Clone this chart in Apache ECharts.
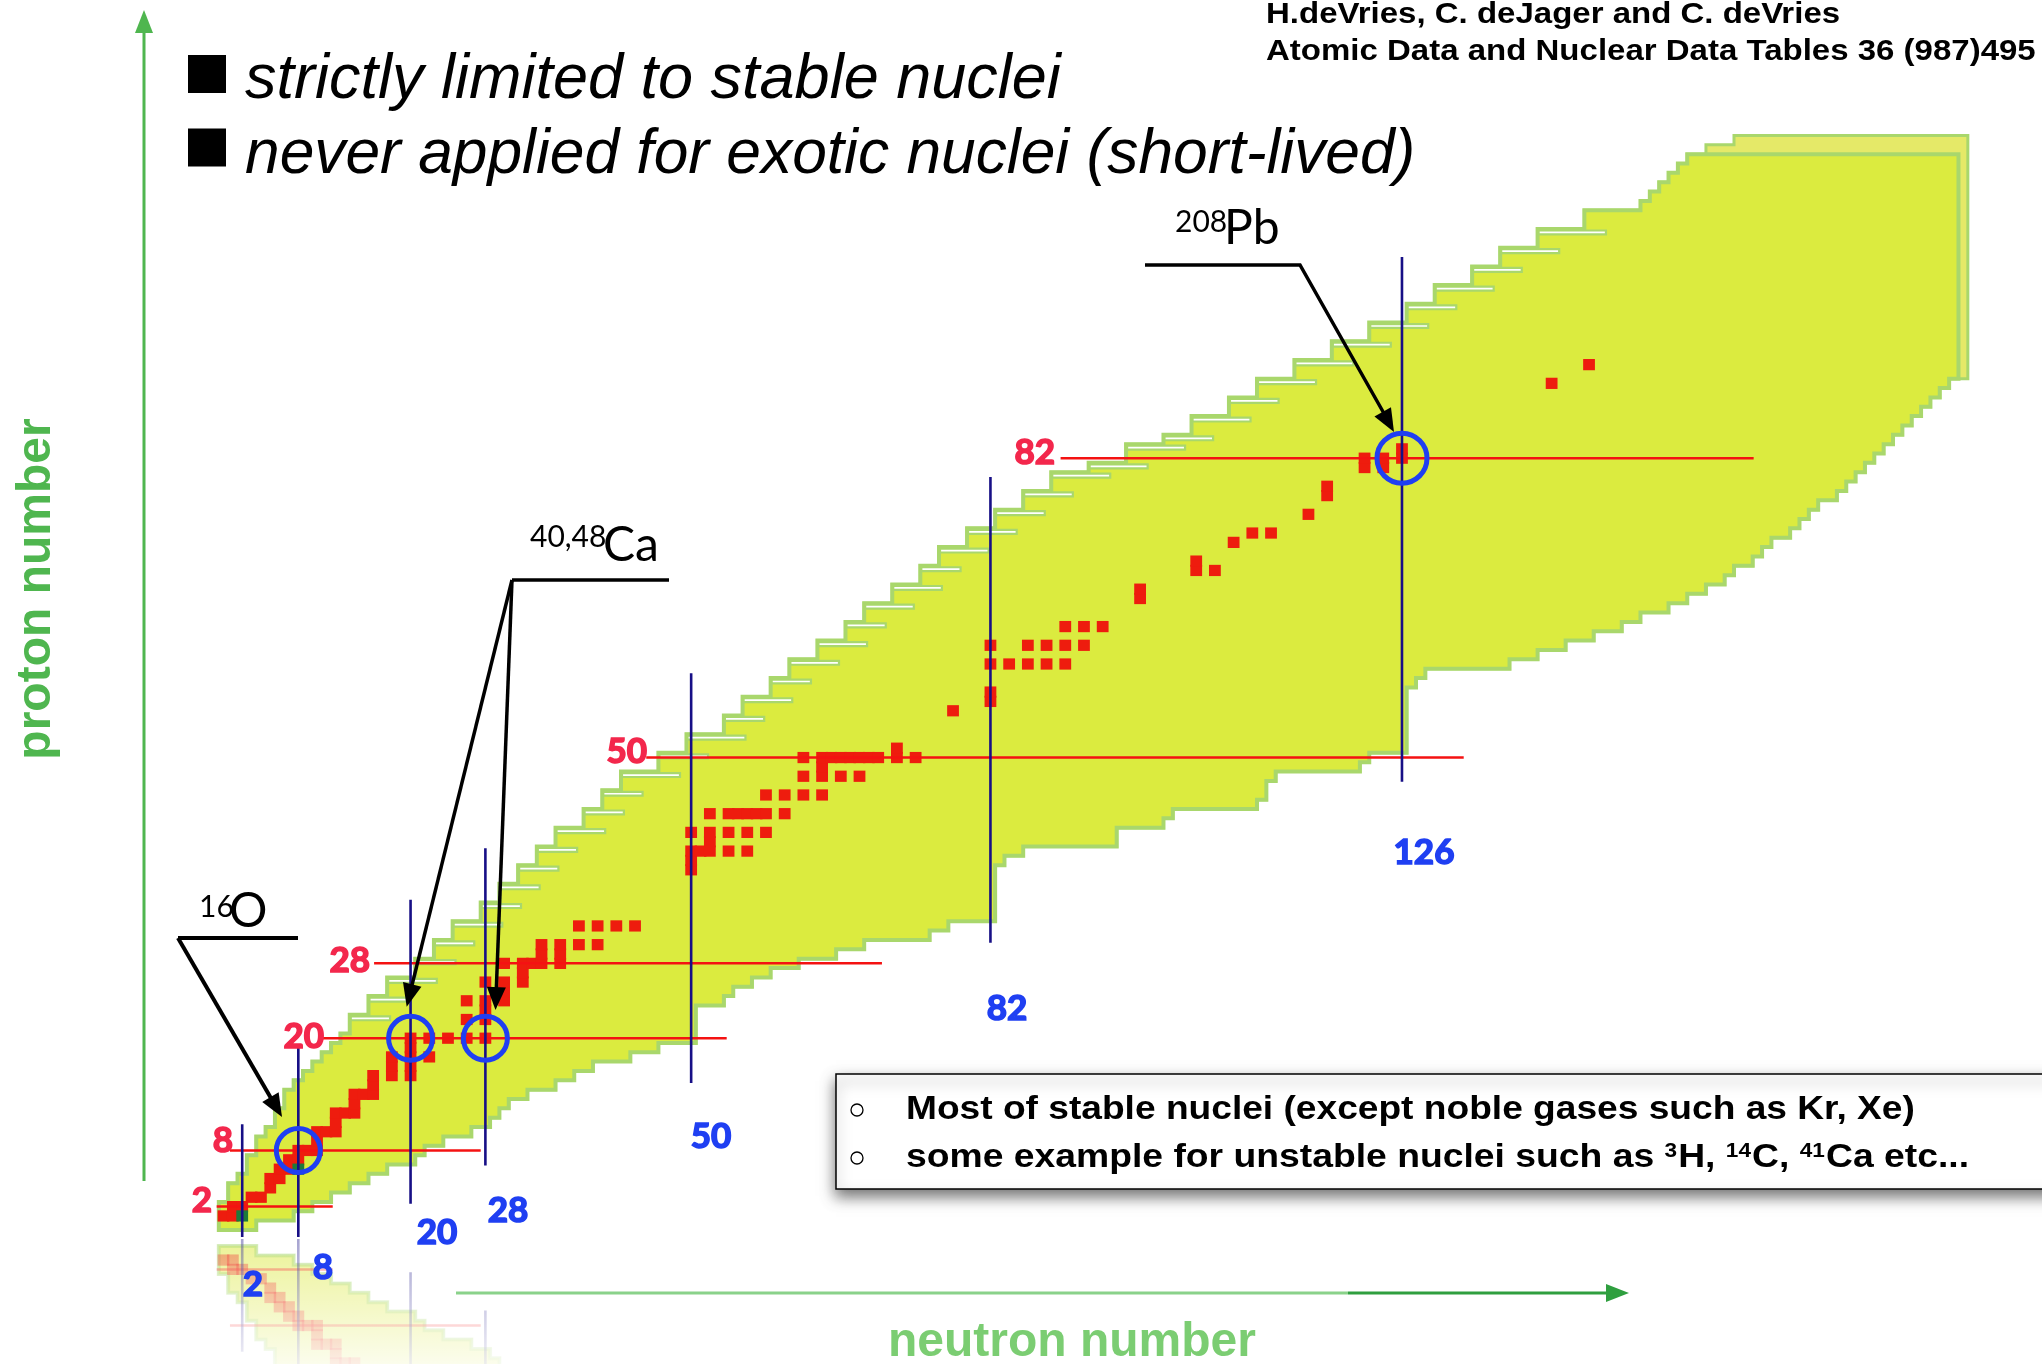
<!DOCTYPE html>
<html>
<head>
<meta charset="utf-8">
<script src="https://cdn.jsdelivr.net/npm/echarts@6/dist/echarts.min.js"></script>
<style>
html, body { margin: 0; padding: 0; background: #ffffff; }
#chart { width: 2042px; height: 1364px; }
</style>
</head>
<body>
<div id="chart"></div>
<script>
// ---- Known nuclei: for each proton number Z (0, 1, 2, ...) the lightest and heaviest neutron number N ----
const nLow = [
  0, 0, 0, 1, 1, 2, 3, 3, 4, 4,
  5, 6, 6, 7, 7, 8, 9, 10, 11, 12,
  13, 14, 14, 16, 16, 18, 18, 21, 21, 23,
  23, 25, 25, 28, 28, 30, 30, 32, 32, 34,
  34, 36, 36, 39, 39, 41, 41, 43, 43, 47,
  47, 50, 50, 54, 54, 56, 56, 59, 59, 61,
  61, 64, 64, 67, 67, 69, 69, 72, 72, 75,
  75, 77, 77, 80, 80, 83, 83, 86, 86, 89,
  89, 93, 97, 97, 101, 104, 104, 108, 108, 111,
  111, 115, 115, 119, 119, 123, 123, 127, 127, 130,
  130, 134, 134, 137, 137, 141, 141, 146, 146, 152,
  153, 154, 155, 156, 157, 159, 162
];
const nHigh = [
  3, 7, 9, 11, 13, 15, 17, 20, 21, 23,
  26, 28, 29, 30, 32, 35, 37, 39, 43, 46,
  50, 50, 50, 50, 53, 54, 56, 58, 61, 65,
  68, 75, 77, 82, 82, 82, 82, 82, 82, 83,
  85, 95, 95, 100, 101, 110, 111, 111, 112, 121,
  122, 126, 126, 126, 126, 126, 126, 126, 127, 128,
  137, 140, 143, 146, 149, 151, 154, 156, 158, 160,
  161, 163, 164, 165, 167, 168, 169, 170, 172, 173,
  174, 175, 176, 177, 178, 179, 180, 181, 182, 183,
  184, 185, 185, 185, 185, 185, 185, 185, 185, 185,
  185, 185, 185, 185, 185, 185, 185, 185, 185, 185,
  185, 185, 185, 185, 185
];
// pale outer margin of the heavy region
const marginFromZ = 91;
const marginN = 186;

// ---- Nuclei with measured charge distributions [N, Z] ----
const measuredStable = [
  [0,1],[1,1],[1,2],[2,2],[3,3],[4,3],[5,4],[5,5],[6,5],[6,6],[7,6],[7,7],[8,7],
  [8,8],[9,8],[10,8],[10,9],[10,10],[11,10],[12,10],[12,11],[12,12],[13,12],[14,12],
  [14,13],[14,14],[15,14],[16,14],[16,15],[16,16],[18,16],[20,16],[18,17],[20,17],
  [18,18],[20,18],[22,18],[20,19],[20,20],[22,20],[24,20],[26,20],[28,20],
  [26,22],[28,22],[28,23],[26,24],[28,24],[30,24],[30,25],[28,26],[30,26],[32,26],[32,27],
  [30,28],[32,28],[33,28],[34,28],[36,28],[34,29],[36,29],[34,30],[36,30],[38,30],[40,30],
  [38,32],[40,32],[42,32],[44,32],
  [50,38],[50,39],[50,40],[51,40],[52,40],[54,40],[56,40],[52,41],
  [50,42],[52,42],[54,42],[56,42],[58,42],
  [52,44],[54,44],[55,44],[56,44],[57,44],[58,44],[60,44],
  [58,46],[60,46],[62,46],[64,46],
  [62,48],[64,48],[66,48],[68,48],[64,49],
  [62,50],[64,50],[65,50],[66,50],[67,50],[68,50],[69,50],[70,50],[72,50],[74,50],[72,51],
  [78,55],[82,56],[82,57],
  [82,60],[84,60],[86,60],[88,60],[90,60],
  [82,62],[86,62],[88,62],[90,62],[92,62],
  [90,64],[92,64],[94,64],
  [98,67],[98,68],[104,70],[106,70],[104,71],[108,73],[110,74],[112,74],[116,76],
  [118,78],[118,79],[122,81],[124,81],[122,82],[124,82],[126,82],[126,83],
  [142,90],[146,92]
];
const measuredUnstable = [[2,1],[8,6]];
// 16O, 40Ca, 48Ca, 208Pb
const highlighted = [[8,8],[20,20],[28,20],[126,82]];

// ---- Magic numbers ----
const magicN = [2, 8, 20, 28, 50, 82, 126];
const magicNLineFromZ = [-1.25, -1.25, 2.3, 6.4, 15.2, 30.2, 47.4];
const magicNLineToZ = [10.8, 19.0, 34.8, 40.3, 59.0, 80.0, 103.5];
const magicZ = [2, 8, 20, 28, 50, 82];
const magicZLineFromN = [-0.73, 0.69, 10.64, 16.1, 45.2, 89.5];
const magicZLineToN = [11.68, 27.5, 53.8, 70.4, 132.6, 163.6];

// ---- layout of the N-Z plane ----
const PX_N = 9.353, X0 = 223.5, PX_Z = 9.355, Y0 = 1225.3;
const N_MIN = -15, N_MAX = 190, Z_MIN = -10, Z_MAX = 130;
const MIRROR_Y = 1238, H = 1364, W = 2042;
const gridLeft = X0 + N_MIN * PX_N;
const gridWidth = (N_MAX - N_MIN) * PX_N;
const reflZ0 = 2 * MIRROR_Y - Y0;

const C_BAND = '#dbeb3f', C_PALE = '#e5e968', C_EDGE = '#a9d76c';
const C_RED = '#ee1c0e', C_GREEN = '#1d7a3a', C_NAVY = '#170f86', C_ZLINE = '#f41212';
const C_BLUE = '#1f3ff2', C_MAGIC_RED = '#f3274c';

function outline(api, lows, highs) {
  const pts = [];
  for (let z = 0; z < highs.length; z++) {
    pts.push(api.coord([lows[z] - 0.5, z - 0.5]), api.coord([lows[z] - 0.5, z + 0.5]));
  }
  for (let z = highs.length - 1; z >= 0; z--) {
    pts.push(api.coord([highs[z] + 0.5, z + 0.5]), api.coord([highs[z] + 0.5, z - 0.5]));
  }
  return pts;
}

// narrow ledges along the proton-rich edge where the boundary steps to higher N
function ledges(api, opacity) {
  const out = [];
  const s = api.size([1, 1]);
  for (let z = 22; z < 108; z++) {
    if (nLow[z + 1] > nLow[z]) {
      const a = api.coord([nLow[z] - 0.5, z + 0.5]);
      const b = api.coord([nLow[z + 1] - 0.5 + 2.2, z + 0.5]);
      out.push({ type: 'rect', shape: { x: a[0] + 1, y: a[1] + 1.5, width: b[0] - a[0], height: s[1] * 0.42 },
                 style: { fill: '#ffffff', stroke: C_EDGE, lineWidth: 2.2, opacity: opacity } });
    }
  }
  return out;
}

const paleHigh = nLow.map((v, z) => (z >= marginFromZ ? marginN : nHigh[z]));

function bandSeries(axis, z, opacity) {
  return [{
    type: 'custom', xAxisIndex: axis, yAxisIndex: axis, z: z, clip: axis === 1, silent: true,
    data: [[0, 0]],
    renderItem: (params, api) => ({
      type: 'polygon',
      shape: { points: outline(api, nLow, paleHigh) },
      style: { fill: C_PALE, stroke: C_EDGE, lineWidth: 3, opacity: opacity }
    })
  }, {
    type: 'custom', xAxisIndex: axis, yAxisIndex: axis, z: z, clip: axis === 1, silent: true,
    data: [[0, 0]],
    renderItem: (params, api) => ({
      type: 'group',
      children: [{
        type: 'polygon',
        shape: { points: outline(api, nLow, nHigh) },
        style: { fill: C_BAND, stroke: C_EDGE, lineWidth: 4, opacity: opacity }
      }].concat(ledges(api, opacity))
    })
  }];
}

function squareSeries(axis, z, data, color, opacity) {
  return {
    type: 'custom', xAxisIndex: axis, yAxisIndex: axis, z: z, clip: axis === 1, silent: true,
    data: data,
    renderItem: (params, api) => {
      const c = api.coord([api.value(0), api.value(1)]);
      const s = api.size([1, 1]);
      const w = s[0] * 1.26, h = s[1] * 1.2;
      return { type: 'rect', shape: { x: c[0] - w / 2, y: c[1] - h / 2, width: w, height: h },
               style: { fill: color, opacity: opacity } };
    }
  };
}

function magicLineSeries(axis, z, opacity) {
  const nData = magicN.map((n, i) => [n, magicNLineFromZ[i], magicNLineToZ[i]]);
  const zData = magicZ.map((zz, i) => [magicZLineFromN[i], zz, magicZLineToN[i]]);
  return [{
    type: 'custom', xAxisIndex: axis, yAxisIndex: axis, z: z, clip: axis === 1, silent: true,
    data: zData,
    renderItem: (params, api) => {
      const p1 = api.coord([api.value(0), api.value(1)]);
      const p2 = api.coord([api.value(2), api.value(1)]);
      return { type: 'line', shape: { x1: p1[0], y1: p1[1], x2: p2[0], y2: p2[1] },
               style: { stroke: C_ZLINE, lineWidth: 2.5, opacity: opacity } };
    }
  }, {
    type: 'custom', xAxisIndex: axis, yAxisIndex: axis, z: z, clip: axis === 1, silent: true,
    data: nData,
    renderItem: (params, api) => {
      const p1 = api.coord([api.value(0), api.value(1)]);
      const p2 = api.coord([api.value(0), api.value(2)]);
      return { type: 'line', shape: { x1: p1[0], y1: p1[1], x2: p2[0], y2: p2[1] },
               style: { stroke: C_NAVY, lineWidth: 2.6, opacity: opacity } };
    }
  }];
}

// ---- annotation helpers ----
function arrowHead(from, tip, len, half, color, z) {
  const dx = tip[0] - from[0], dy = tip[1] - from[1];
  const d = Math.hypot(dx, dy), ux = dx / d, uy = dy / d;
  const bx = tip[0] - ux * len, by = tip[1] - uy * len;
  return { type: 'polygon', z: z, silent: true,
    shape: { points: [tip, [bx - uy * half, by + ux * half], [bx + uy * half, by - ux * half]] },
    style: { fill: color } };
}
function arrowLine(from, tip, width, color, z) {
  const dx = tip[0] - from[0], dy = tip[1] - from[1];
  const d = Math.hypot(dx, dy);
  const end = [tip[0] - dx / d * 16, tip[1] - dy / d * 16];
  return [
    { type: 'line', z: z, silent: true, shape: { x1: from[0], y1: from[1], x2: end[0], y2: end[1] },
      style: { stroke: color, lineWidth: width } },
    arrowHead(from, tip, 23, 9.5, color, z)
  ];
}
function polyline(points, width, color, z) {
  return { type: 'polyline', z: z, silent: true, shape: { points: points },
           style: { stroke: color, lineWidth: width, fill: null, lineJoin: 'miter' } };
}
function txt(x, y, text, font, color, align, extra) {
  return Object.assign({ type: 'text', x: x, y: y, z: 50, silent: true,
    style: { text: text, font: font, fill: color, align: align || 'left', textAlign: align || 'left',
             verticalAlign: 'middle', textVerticalAlign: 'middle' } }, extra || {});
}
// heavy numerals for the magic numbers
function magicLabel(x, y, text, color, align) {
  const t = txt(x, y, text, 'bold 35px Lato', color, align);
  t.style.stroke = color;
  t.style.lineWidth = 1.6;
  return t;
}

const FONT_NOTE = '"Lato", "Noto Sans", sans-serif';

const graphics = [
  // fade of the mirrored image below the chart
  { type: 'rect', z: 1, silent: true, shape: { x: 0, y: MIRROR_Y, width: W, height: H - MIRROR_Y },
    style: { fill: { type: 'linear', x: 0, y: 0, x2: 0, y2: 1,
      colorStops: [{ offset: 0, color: 'rgba(255,255,255,0.15)' }, { offset: 1, color: 'rgba(255,255,255,0.85)' }] } } },

  // bullets
  { type: 'rect', z: 50, silent: true, shape: { x: 188, y: 55, width: 38, height: 38 }, style: { fill: '#000' } },
  { type: 'rect', z: 50, silent: true, shape: { x: 188, y: 128.5, width: 38, height: 38 }, style: { fill: '#000' } },
  txt(245, 80, 'strictly limited to stable nuclei', 'italic 63px "Liberation Sans"', '#000'),
  txt(245, 156, 'never applied for exotic nuclei (short-lived)', 'italic 62.3px "Liberation Sans"', '#000'),

  // reference
  txt(1266, 15, 'H.deVries, C. deJager and C. deVries', 'bold 30px "Liberation Sans"', '#000', 'left', { scaleX: 1.1 }),
  txt(1266, 52, 'Atomic Data and Nuclear Data Tables 36 (987)495', 'bold 30px "Liberation Sans"', '#000', 'left', { scaleX: 1.1 }),

  // axis arrows
  { type: 'line', z: 50, silent: true, shape: { x1: 144, y1: 1181, x2: 144, y2: 28 }, style: { stroke: '#4fb64f', lineWidth: 3 } },
  { type: 'polygon', z: 50, silent: true, shape: { points: [[144, 10], [135, 33], [153, 33]] }, style: { fill: '#4fb64f' } },
  txt(37, 589, 'proton number', 'bold 48px "Liberation Sans"', '#4fb64f', 'center', { rotation: Math.PI / 2 }),
  { type: 'line', z: 50, silent: true, shape: { x1: 456, y1: 1293, x2: 1348, y2: 1293 }, style: { stroke: '#8ad28a', lineWidth: 3 } },
  { type: 'line', z: 50, silent: true, shape: { x1: 1348, y1: 1293, x2: 1610, y2: 1293 }, style: { stroke: '#2f9f3f', lineWidth: 3 } },
  { type: 'polygon', z: 50, silent: true, shape: { points: [[1629, 1293], [1606, 1284], [1606, 1302]] }, style: { fill: '#2f9f3f' } },
  txt(1072, 1343, 'neutron number', 'bold 48px "Liberation Sans"', '#7bcd72', 'center'),

  // magic number labels (Z, left of the lines)
  magicLabel(1055, 453, '82', C_MAGIC_RED, 'right'),
  magicLabel(647, 752, '50', C_MAGIC_RED, 'right'),
  magicLabel(370, 961, '28', C_MAGIC_RED, 'right'),
  magicLabel(324, 1037, '20', C_MAGIC_RED, 'right'),
  magicLabel(233, 1141, '8', C_MAGIC_RED, 'right'),
  magicLabel(212, 1201, '2', C_MAGIC_RED, 'right'),
  // magic number labels (N, below the lines)
  magicLabel(1424, 853, '126', C_BLUE, 'center'),
  magicLabel(1007, 1009, '82', C_BLUE, 'center'),
  magicLabel(711, 1137, '50', C_BLUE, 'center'),
  magicLabel(508, 1211, '28', C_BLUE, 'center'),
  magicLabel(437, 1233, '20', C_BLUE, 'center'),
  magicLabel(323, 1268, '8', C_BLUE, 'center'),
  magicLabel(253, 1285, '2', C_BLUE, 'center'),

  // 208Pb
  txt(1175, 222, '208', '30px ' + FONT_NOTE, '#000'),
  txt(1224, 229, 'Pb', '48px ' + FONT_NOTE, '#000'),
  polyline([[1145, 265], [1300, 265], [1386, 417]], 3.5, '#000', 50),
  arrowHead([1300, 265], [1394, 432], 23, 9.5, '#000', 50),

  // 40,48Ca
  txt(530, 537, '40,48', '30px ' + FONT_NOTE, '#000'),
  txt(603, 546, 'Ca', '48px ' + FONT_NOTE, '#000'),
  polyline([[669, 580], [512, 580]], 3.5, '#000', 50),
  ...arrowLine([512, 580], [406.7, 1006.7], 3.5, '#000', 50),
  ...arrowLine([512, 580], [495.5, 1010], 3.5, '#000', 50),

  // 16O
  txt(199, 907, '16', '30px ' + FONT_NOTE, '#000'),
  txt(229, 912, 'O', '48px ' + FONT_NOTE, '#000'),
  polyline([[298, 938], [178, 938]], 4, '#000', 50),
  ...arrowLine([178, 938], [282, 1117], 4, '#000', 50),

  // note box
  { type: 'rect', z: 40, silent: true, shape: { x: 836, y: 1074, width: 1260, height: 115 },
    style: { fill: '#fff', stroke: '#000', lineWidth: 1.5, shadowBlur: 14, shadowOffsetY: 7, shadowColor: 'rgba(0,0,0,0.55)' } },
  { type: 'circle', z: 50, silent: true, shape: { cx: 857, cy: 1110, r: 6 }, style: { fill: null, stroke: '#000', lineWidth: 1.3 } },
  { type: 'circle', z: 50, silent: true, shape: { cx: 857, cy: 1158, r: 6 }, style: { fill: null, stroke: '#000', lineWidth: 1.3 } },
  txt(906, 1110, 'Most of stable nuclei (except noble gases such as Kr, Xe)', 'bold 33px "Liberation Sans"', '#000', 'left', { scaleX: 1.125 }),
  { type: 'text', x: 906, y: 1158, z: 50, silent: true, scaleX: 1.13,
    style: { text: 'some example for unstable nuclei such as {s|3}H, {s|14}C, {s|41}Ca etc...',
      font: 'bold 33px "Liberation Sans"', fill: '#000', align: 'left', textAlign: 'left',
      verticalAlign: 'middle', textVerticalAlign: 'middle',
      rich: { s: { font: 'bold 20px "Liberation Sans"', fill: '#000', verticalAlign: 'top', padding: [0, 1, 14, 0] } } } }
];

const chart = echarts.init(document.getElementById('chart'), null, { renderer: 'canvas', width: W, height: H });

const axisOff = { show: false };
chart.setOption({
  animation: false,
  backgroundColor: '#ffffff',
  grid: [
    { left: gridLeft, width: gridWidth, top: Y0 - Z_MAX * PX_Z, height: (Z_MAX - Z_MIN) * PX_Z },
    { left: gridLeft, width: gridWidth, top: MIRROR_Y, height: H - MIRROR_Y }
  ],
  xAxis: [
    Object.assign({ type: 'value', gridIndex: 0, min: N_MIN, max: N_MAX }, axisOff),
    Object.assign({ type: 'value', gridIndex: 1, min: N_MIN, max: N_MAX }, axisOff)
  ],
  yAxis: [
    Object.assign({ type: 'value', gridIndex: 0, min: Z_MIN, max: Z_MAX }, axisOff),
    Object.assign({ type: 'value', gridIndex: 1, inverse: true,
      min: (MIRROR_Y - reflZ0) / PX_Z, max: (H - reflZ0) / PX_Z }, axisOff)
  ],
  series: [
    // mirrored image below the plane
    ...bandSeries(1, 0, 0.45),
    squareSeries(1, 0, measuredStable, C_RED, 0.45),
    ...magicLineSeries(1, 0, 0.45),
    // chart of nuclides
    ...bandSeries(0, 2, 1),
    squareSeries(0, 3, measuredStable, C_RED, 1),
    squareSeries(0, 3, measuredUnstable, C_GREEN, 1),
    ...magicLineSeries(0, 4, 1),
    {
      type: 'scatter', xAxisIndex: 0, yAxisIndex: 0, z: 5, silent: true,
      data: highlighted, symbol: 'circle',
      symbolSize: (v) => (v[1] > 60 ? 50 : 44),
      itemStyle: { color: 'rgba(0,0,0,0)', borderColor: C_BLUE, borderWidth: 5, opacity: 1 }
    }
  ],
  graphic: { elements: graphics }
});
</script>
</body>
</html>
